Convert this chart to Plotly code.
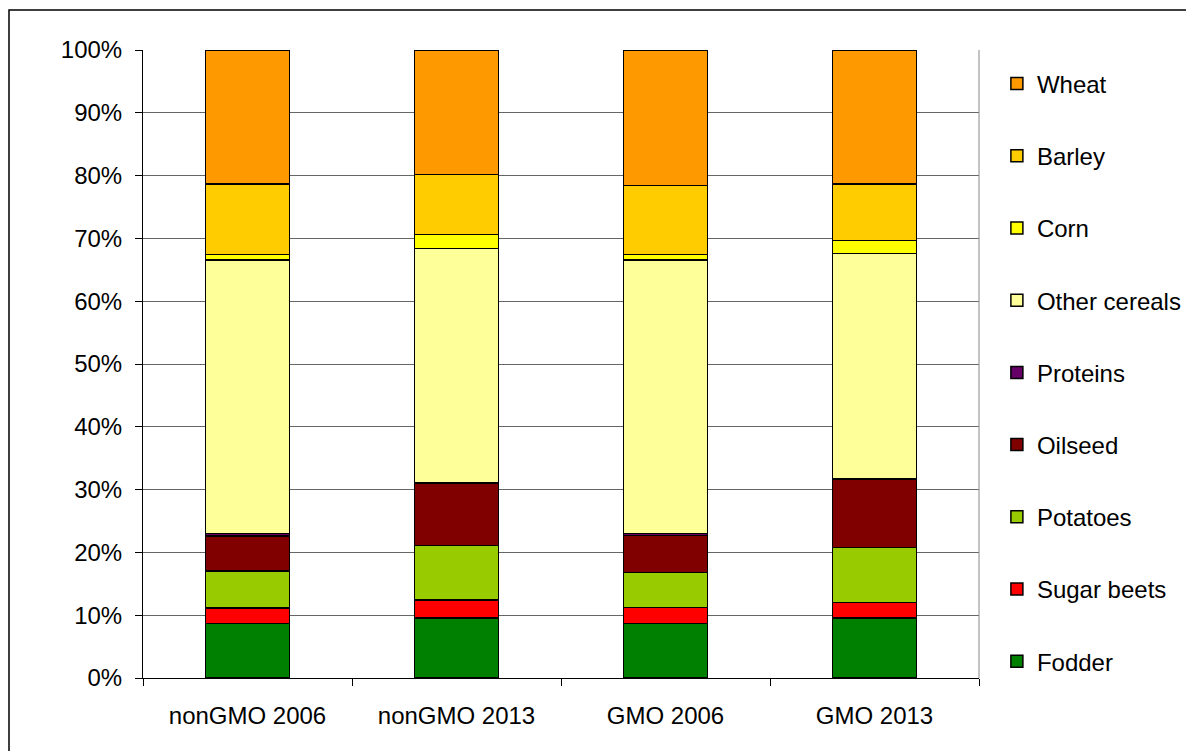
import plotly.graph_objects as go

groups = ['nonGMO 2006', 'nonGMO 2013', 'GMO 2006', 'GMO 2013']

# shares in %, bottom to top of each stacked bar
fodder = [8.65, 9.55, 8.65, 9.55]
sugar_beets = [2.5, 2.85, 2.55, 2.5]
potatoes = [5.85, 8.7, 5.6, 8.7]
oilseed = [5.6, 9.95, 5.9, 10.95]
proteins = [0.4, 0.1, 0.3, 0.1]
other_cereals = [43.6, 37.25, 43.6, 35.8]
corn = [0.8, 2.2, 0.8, 2.05]
barley = [11.3, 9.6, 11.0, 9.05]
wheat = [21.3, 19.8, 21.6, 21.3]

series = [
    ('Fodder', fodder, '#008000'),
    ('Sugar beets', sugar_beets, '#FF0000'),
    ('Potatoes', potatoes, '#99CC00'),
    ('Oilseed', oilseed, '#800000'),
    ('Proteins', proteins, '#660066'),
    ('Other cereals', other_cereals, '#FFFF99'),
    ('Corn', corn, '#FFFF00'),
    ('Barley', barley, '#FFCC00'),
    ('Wheat', wheat, '#FF9900'),
]

fig = go.Figure()
for i, (name, vals, color) in enumerate(series):
    fig.add_trace(go.Bar(
        x=groups,
        y=[v / 100 for v in vals],
        name=name,
        legendgroup=name,
        legendrank=len(series) - i,
        marker=dict(color=color, line=dict(color='black', width=1.5)),
    ))

# page body adds an 8px offset, so the figure is a bit smaller than the window
fig.update_layout(
    width=1186,
    height=743,
    barmode='stack',
    bargap=0.6,
    margin=dict(l=135, r=215, t=42, b=73, autoexpand=False),
    paper_bgcolor='white',
    plot_bgcolor='white',
    font=dict(family='Liberation Sans, Arial, sans-serif', size=24, color='black'),
    showlegend=True,
    legend=dict(
        x=1.0214, y=0.9817, xanchor='left', yanchor='top',
        traceorder='grouped',
        tracegroupgap=38,
        font=dict(size=24),
    ),
    xaxis=dict(
        showline=True, linecolor='black', linewidth=1,
        ticks='outside', tickson='boundaries', ticklen=7, tickcolor='black',
        ticklabelstandoff=16,
        showgrid=False,
    ),
    yaxis=dict(
        range=[0, 1], tickformat='.0%', dtick=0.1,
        showline=True, linecolor='black', linewidth=1,
        ticks='outside', ticklen=7, tickcolor='black',
        ticklabelstandoff=8,
        showgrid=True, gridcolor='#666666', gridwidth=1,
        zeroline=False,
    ),
    shapes=[
        # right edge of the plot area
        dict(type='line', xref='paper', yref='paper', x0=1, x1=1, y0=0, y1=1,
             line=dict(color='#888888', width=1)),
        # outer frame of the chart
        dict(type='rect', xref='paper', yref='paper',
             x0=(1 - 135) / 836, x1=(1250 - 135) / 836,
             y0=(670 - 800) / 628, y1=(670 - 2) / 628,
             line=dict(color='black', width=1.5), fillcolor='rgba(0,0,0,0)',
             layer='below'),
    ],
)

fig.write_html("out.html")
